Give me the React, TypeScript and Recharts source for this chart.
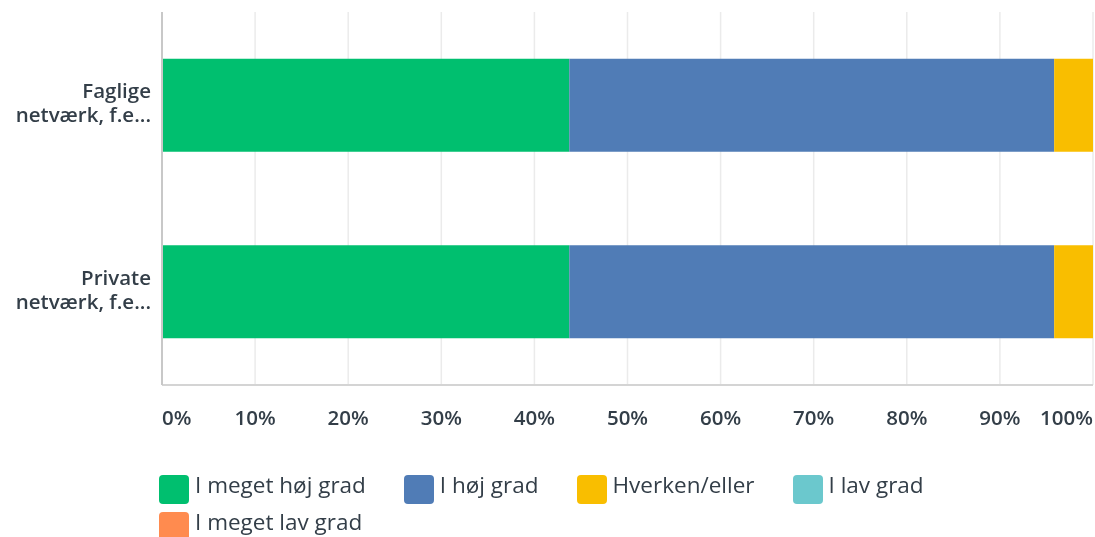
import React from 'react';
import { BarChart, Bar, XAxis, YAxis, CartesianGrid, Legend } from 'recharts';

const categories = ['Faglige netværk, f.e...', 'Private netværk, f.e...'];
const categoryLines = [
  ['Faglige', 'netværk, f.e...'],
  ['Private', 'netværk, f.e...'],
];
const seriesNames = ['I meget høj grad', 'I høj grad', 'Hverken/eller', 'I lav grad', 'I meget lav grad'];
const meget_hoej = [43.75, 43.75];
const hoej = [52.08, 52.08];
const hverken = [4.17, 4.17];
const lav = [0, 0];
const meget_lav = [0, 0];
const xTicks = [0, 10, 20, 30, 40, 50, 60, 70, 80, 90, 100];

const colors = ['#00bf6f', '#507cb6', '#f9be00', '#6bc8cd', '#ff8b4f'];
const seriesValues = [meget_hoej, hoej, hverken, lav, meget_lav];
const keys = ['s0', 's1', 's2', 's3', 's4'];

const data = categories.map((name, i) => {
  const row: Record<string, any> = { name };
  keys.forEach((k, j) => {
    row[k] = seriesValues[j][i];
  });
  return row;
});

const textColor = '#333e48';
const font = '"Open Sans", "Noto Sans", sans-serif';

const XTick = (props: any) => {
  const { x, y, payload, index } = props;
  const last = index === xTicks.length - 1;
  const anchor = index === 0 ? 'start' : last ? 'end' : 'middle';
  return (
    <text
      x={x}
      y={y + 38}
      textAnchor={anchor}
      fill={textColor}
      fontFamily={font}
      fontSize={20.5}
      fontWeight={600}
    >
      {payload.value}%
    </text>
  );
};

const YTick = (props: any) => {
  const { x, y, payload } = props;
  const i = categories.indexOf(payload.value);
  const lines = categoryLines[i] || [payload.value];
  return (
    <g>
      {lines.map((l, k) => (
        <text
          key={k}
          x={x - 9}
          y={y - 7 + k * 24}
          textAnchor="end"
          fill={textColor}
          fontFamily={font}
          fontSize={20.5}
          fontWeight={600}
        >
          {l}
        </text>
      ))}
    </g>
  );
};

const renderLegend = () => (
  <div
    style={{
      display: 'flex',
      flexWrap: 'wrap',
      rowGap: 8,
      columnGap: 38,
      fontFamily: font,
      fontSize: 22.5,
      fontWeight: 500,
      color: textColor,
    }}
  >
    {seriesNames.map((n, i) => (
      <div key={n} style={{ display: 'flex', alignItems: 'flex-start', height: 29 }}>
        <div
          style={{
            width: 30,
            height: 29,
            borderRadius: 4,
            background: colors[i],
            marginRight: 6,
          }}
        />
        <span style={{ marginTop: -6, whiteSpace: 'nowrap' }}>{n}</span>
      </div>
    ))}
  </div>
);

export default function App() {
  return (
    <div style={{ position: 'fixed', left: 0, top: 0, width: 1095, height: 537, overflow: 'hidden' }}>
      <style>{'html,body{margin:0;overflow:hidden}'}</style>
      <BarChart
        width={1095}
        height={537}
        data={data}
        layout="vertical"
        barCategoryGap="25%"
        margin={{ top: 12, right: 2, bottom: 0, left: 0 }}
      >
        <CartesianGrid horizontal={false} stroke="#ebebeb" strokeWidth={1.5} />
        <XAxis
          type="number"
          domain={[0, 100]}
          ticks={xTicks}
          interval={0}
          height={90}
          tickLine={false}
          tickSize={0}
          axisLine={{ stroke: '#d4d4d4', strokeWidth: 2 }}
          tick={<XTick />}
        />
        <YAxis
          type="category"
          dataKey="name"
          width={162}
          tickLine={false}
          tickSize={0}
          axisLine={{ stroke: '#c8c8c8', strokeWidth: 2 }}
          tick={<YTick />}
        />
        <Legend
          verticalAlign="bottom"
          content={renderLegend}
          wrapperStyle={{ left: 159, width: 934, top: 475, bottom: 'auto', height: 62 }}
        />
        {keys.map((k, j) => (
          <Bar
            key={k}
            dataKey={k}
            name={seriesNames[j]}
            stackId="a"
            fill={colors[j]}
            isAnimationActive={false}
          />
        ))}
      </BarChart>
    </div>
  );
}
